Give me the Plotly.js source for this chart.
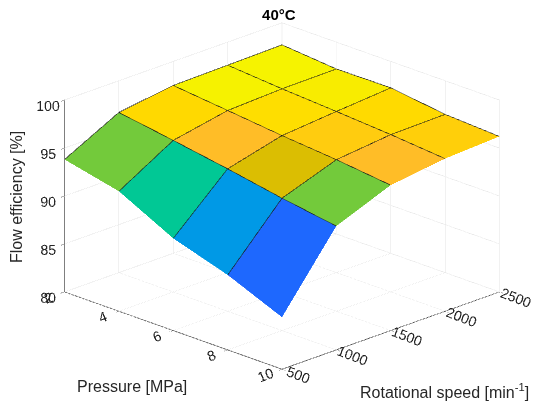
<!DOCTYPE html>
<html>
<head>
<meta charset="utf-8">
<script src="https://cdn.plot.ly/plotly-3.0.1.min.js"></script>
<style>html,body{margin:0;padding:0;background:#fff;}#chart{width:550px;height:409px;}</style>
</head>
<body>
<div id="chart"></div>
<script>
// Data
var pressure = [2, 4, 6, 8, 10];              // MPa
var speed = [500, 1000, 1500, 2000, 2500];    // min^-1
// efficiency[i][j]: pressure[i], speed[j]
var efficiency = [
  [93.8, 96.7, 97.5, 97.6, 97.7],
  [92.5, 95.8, 96.9, 97.15, 97.2],
  [89.6, 94.85, 96.3, 96.8, 97.25],
  [87.8, 93.8, 95.8, 96.4, 96.5],
  [85.4, 92.9, 95.15, 95.9, 96.2]
];
var zTicks = [80, 85, 90, 95, 100];

var colorscale = [
  [0.0, '#3b2aa0'],
  [0.19, '#1f66ff'],
  [0.34, '#0099e6'],
  [0.575, '#00c896'],
  [0.68, '#6ccb3f'],
  [0.765, '#d9be00'],
  [0.842, '#ffbc29'],
  [0.885, '#ffcb10'],
  [0.915, '#ffd700'],
  [0.935, '#ffdb00'],
  [0.955, '#f8ec00'],
  [1.0, '#f5f500']
];

var xRange = [2, 10], yRange = [500, 2500], zRange = [80, 100];
var zoom = 1.57;
var aspect = {x: 1 * zoom, y: 1 * zoom, z: 0.667 * zoom};
var el = 20.8 * Math.PI / 180, R = 1.6;
var eyeDir = {x: Math.cos(el) / Math.SQRT2, y: -Math.cos(el) / Math.SQRT2, z: Math.sin(el)};

var nP = pressure.length, nS = speed.length;
var vx = [], vy = [], vz = [];
for (var i = 0; i < nP; i++) {
  for (var j = 0; j < nS; j++) {
    vx.push(pressure[i]); vy.push(speed[j]); vz.push(efficiency[i][j]);
  }
}
var fi = [], fj = [], fk = [], fint = [];
for (var i = 0; i < nP - 1; i++) {
  for (var j = 0; j < nS - 1; j++) {
    var a = i * nS + j, b = i * nS + j + 1, c = (i + 1) * nS + j + 1, d = (i + 1) * nS + j;
    fi.push(a); fj.push(b); fk.push(c); fint.push(efficiency[i][j]);
    fi.push(a); fj.push(c); fk.push(d); fint.push(efficiency[i][j]);
  }
}
var allZ = [].concat.apply([], efficiency);
var zmin = Math.min.apply(null, allZ), zmax = Math.max.apply(null, allZ);

var mesh = {
  type: 'mesh3d', x: vx, y: vy, z: vz, i: fi, j: fj, k: fk,
  intensity: fint, intensitymode: 'cell', colorscale: colorscale,
  cmin: zmin, cmax: zmax, showscale: false, flatshading: true,
  lighting: {ambient: 1, diffuse: 0, specular: 0, roughness: 1, fresnel: 0},
  hoverinfo: 'skip'
};

// grid edges: nudged toward the camera along the view direction (no change on screen
// with orthographic projection, only avoids depth fighting with the facets)
var eps = 0.006;
var ox = eps * eyeDir.x * (xRange[1] - xRange[0]) / aspect.x;
var oy = eps * eyeDir.y * (yRange[1] - yRange[0]) / aspect.y;
var oz = eps * eyeDir.z * (zRange[1] - zRange[0]) / aspect.z;
var lx = [], ly = [], lz = [];
for (var i = 0; i < nP; i++) {
  for (var j = 0; j < nS; j++) { lx.push(pressure[i] + ox); ly.push(speed[j] + oy); lz.push(efficiency[i][j] + oz); }
  lx.push(null); ly.push(null); lz.push(null);
}
for (var j = 0; j < nS; j++) {
  for (var i = 0; i < nP; i++) { lx.push(pressure[i] + ox); ly.push(speed[j] + oy); lz.push(efficiency[i][j] + oz); }
  lx.push(null); ly.push(null); lz.push(null);
}
var edges = {
  type: 'scatter3d', mode: 'lines', x: lx, y: ly, z: lz,
  line: {color: '#1a1a1a', width: 1.2}, connectgaps: false, hoverinfo: 'skip', showlegend: false
};

var font = 'Liberation Sans, Arial, sans-serif';
var axisBase = {
  showbackground: false, gridcolor: '#e3e3e3', gridwidth: 1,
  showline: true, linecolor: '#555555', linewidth: 1.5,
  zeroline: false, ticks: 'outside', ticklen: 5, tickcolor: '#666666',
  tickfont: {family: font, size: 13, color: '#262626'},
  showspikes: false, title: {text: ''}
};
function ax(extra) { var o = {}; for (var k in axisBase) o[k] = axisBase[k]; for (var k in extra) o[k] = extra[k]; return o; }
// trailing non-breaking spaces move the centred z labels a little further left of the axis
function padded(v) { return v + '\u00a0\u00a0\u00a0\u00a0'; }

var titleFont = {family: font, size: 16, color: '#262626'};
var layout = {
  width: 550, height: 409,
  margin: {l: 0, r: 0, t: 0, b: 0},
  paper_bgcolor: '#ffffff',
  showlegend: false,
  title: {text: '<b>40°C</b>', x: 0.507, y: 0.963, xanchor: 'center', yanchor: 'middle',
          font: {family: font, size: 15, color: '#000000'}},
  scene: {
    domain: {x: [0.0255, 1], y: [0.0416, 1]},
    aspectmode: 'manual', aspectratio: aspect,
    camera: {
      projection: {type: 'orthographic'},
      eye: {x: R * eyeDir.x, y: R * eyeDir.y, z: R * eyeDir.z},
      up: {x: 0, y: 0, z: 1}, center: {x: 0, y: 0, z: 0}
    },
    xaxis: ax({range: xRange, tickvals: pressure, ticktext: pressure.map(String), tickangle: -21}),
    yaxis: ax({range: yRange, tickvals: speed, ticktext: speed.map(String), tickangle: 21}),
    zaxis: ax({range: zRange, tickvals: zTicks, ticktext: zTicks.map(padded), tickangle: 0, ticklen: 6})
  },
  annotations: [
    {xref: 'paper', yref: 'paper', x: 132 / 550, y: 1 - 386 / 409, text: 'Pressure [MPa]',
     showarrow: false, font: titleFont, xanchor: 'center', yanchor: 'middle'},
    {xref: 'paper', yref: 'paper', x: 444 / 550, y: 1 - 391 / 409, text: 'Rotational speed [min<sup>-1</sup>]',
     showarrow: false, font: titleFont, xanchor: 'center', yanchor: 'middle'},
    {xref: 'paper', yref: 'paper', x: 16 / 550, y: 1 - 197 / 409, text: 'Flow efficiency [%]', textangle: -90,
     showarrow: false, font: titleFont, xanchor: 'center', yanchor: 'middle'}
  ],
  hovermode: false
};

Plotly.newPlot('chart', [mesh, edges], layout, {displayModeBar: false, plotGlPixelRatio: 1});
</script>
</body>
</html>
